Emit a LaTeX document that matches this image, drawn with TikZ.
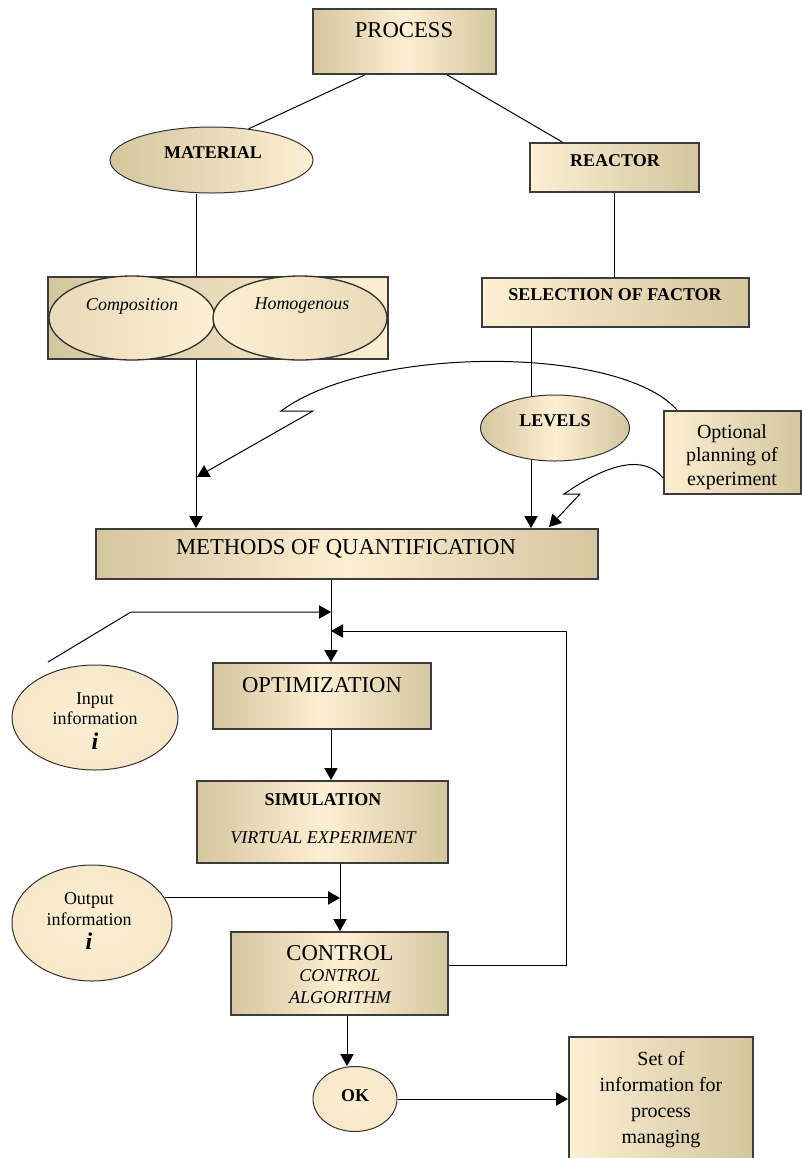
\documentclass[tikz,border=0pt]{standalone}
\usepackage{fontspec}
\setmainfont{Liberation Serif}
\usetikzlibrary{shapes.geometric,arrows.meta,calc}

\definecolor{tanD}{RGB}{212,198,158}
\definecolor{creamL}{RGB}{253,239,210}
\definecolor{edgeGray}{RGB}{60,60,60}

\tikzset{every picture/.style={line width=0.75pt}}
\tikzset{
  procbox/.style={rectangle, draw=edgeGray, line width=1.5pt, inner sep=0pt, left color=tanD, right color=tanD, middle color=creamL},
  sidebox/.style={rectangle, draw=edgeGray, line width=1.5pt, inner sep=0pt, left color=creamL, right color=tanD},
  oval/.style={ellipse, draw=black!80, inner sep=0pt, left color=tanD, right color=creamL},
  infooval/.style={ellipse, draw=black!80, inner sep=0pt, inner color=creamL, outer color=tanD!18!creamL},
  bigtext/.style={font=\fontsize{17}{20}\selectfont, inner sep=0pt},
  boldtext/.style={font=\bfseries\fontsize{13.5}{16}\selectfont, inner sep=0pt},
  slanttext/.style={font=\itshape\fontsize{13.5}{16.5}\selectfont, align=center, inner sep=0pt},
  notetext/.style={font=\fontsize{15}{17.6}\selectfont, align=center, inner sep=0pt},
  infotext/.style={font=\fontsize{13.5}{15.5}\selectfont, align=center, inner sep=0pt},
  flow/.style={-{Triangle[length=9pt,width=10pt]}},
}

\begin{document}
\begin{tikzpicture}[x=0.75pt,y=0.75pt,yscale=-1,xscale=1]
\clip (0,0) rectangle (802,1158);

%Shape: Rectangle
\node[procbox, minimum width=137.25pt, minimum height=48.75pt] (process) at (404.5,41.5) {};
%Shape: Ellipse
\node[oval, minimum width=152.25pt, minimum height=49.5pt] (material) at (211.5,160) {};
%Shape: Rectangle
\node[sidebox, minimum width=126.75pt, minimum height=36.75pt] (reactor) at (614.5,167.5) {};
%Shape: Rectangle
\node[sidebox, left color=tanD, right color=creamL, minimum width=255pt, minimum height=61.5pt] (compbox) at (218,318) {};
%Shape: Ellipse
\node[oval, line width=1pt, left color=tanD!50!creamL, right color=creamL, minimum width=124.5pt, minimum height=63pt] (composition) at (132,318) {};
%Shape: Ellipse
\node[oval, line width=1pt, left color=creamL, right color=tanD!50!creamL, minimum width=130.5pt, minimum height=63pt] (homogenous) at (300,318) {};
%Shape: Rectangle
\node[sidebox, minimum width=200.25pt, minimum height=36.75pt] (selection) at (615.5,302.5) {};
%Shape: Rectangle
\node[sidebox, minimum width=102.75pt, minimum height=62.25pt] (optional) at (732.5,452.5) {};
%Shape: Rectangle
\node[procbox, minimum width=376.5pt, minimum height=37.5pt] (methods) at (347,554) {};
%Shape: Rectangle
\node[procbox, minimum width=163.5pt, minimum height=49.5pt] (optim) at (322,696) {};
%Shape: Ellipse
\node[infooval, minimum width=124.5pt, minimum height=78.75pt] (input) at (95,717.5) {};
%Shape: Rectangle
\node[procbox, minimum width=188.25pt, minimum height=61.5pt] (simul) at (322.5,822) {};
%Shape: Ellipse
\node[infooval, minimum width=120pt, minimum height=87pt] (output) at (92,923) {};
%Shape: Rectangle
\node[procbox, minimum width=162.75pt, minimum height=62.25pt] (control) at (339.5,973.5) {};
%Shape: Ellipse
\node[infooval, minimum width=63pt, minimum height=48.75pt] (ok) at (355,1099) {};
%Shape: Rectangle
\node[sidebox, minimum width=138pt, minimum height=107.25pt] (setbox) at (661,1108.5) {};

\coordinate (matDown) at ($(material.south)+(-15.5,0)$);
\coordinate (compDown) at ($(compbox.south)+(-22,0)$);
\coordinate (selDown) at ($(selection.south)+(-84.5,0)$);
\coordinate (mqDown) at ($(methods.south)+(-16,0)$);
\coordinate (simDown) at ($(simul.south)+(17.5,0)$);
\coordinate (ctlDown) at ($(control.south)+(7.5,0)$);

%Straight Lines
\draw (process.220) -- (material.40);
\draw (process.322) -- (reactor.154);
\draw (matDown) -- (matDown |- compbox.north);
\draw (reactor.south) -- (reactor.south |- selection.north);
\draw[flow] (compDown) -- (compDown |- methods.north);
\draw[flow] (selDown) -- (selDown |- methods.north);

%Shape: Ellipse
\node[oval, left color=tanD, right color=tanD, middle color=creamL, minimum width=111.75pt, minimum height=49.5pt] (levels) at (555,428) {};

%Curve Lines
\coordinate (optTop) at ($(optional.north west)+(14,0)$);
\coordinate (zigA) at (281,411);
\coordinate (zigB) at (313,411);
\coordinate (tipA) at (197,477);
\draw[flow] (optTop) .. controls (620,345) and (370,345) .. (zigA) -- (zigB) -- (tipA);
\coordinate (optSide) at ($(optional.west)+(0,25.5)$);
\coordinate (zigC) at (564,494);
\coordinate (zigD) at (580,494);
\coordinate (tipB) at (549,527);
\draw[flow] (optSide) .. controls (645,455) and (610,462) .. (zigC) -- (zigD) -- (tipB);

%Straight Lines
\coordinate (inTail) at (48,662);
\coordinate (inKnee) at (131,612);
\coordinate (fbTurn) at (566,631);
\draw[flow] (inTail) -- (inKnee) -- (inKnee -| mqDown);
\draw[flow] ($(control.east)+(0,-8.5)$) -| (fbTurn) -- (fbTurn -| mqDown);
\draw[flow] (mqDown) -- (mqDown |- optim.north);
\draw[flow] (mqDown |- optim.south) -- (mqDown |- simul.north);
\draw[flow] (simDown) -- (simDown |- control.north);
\draw[flow] (output.19) -- (output.19 -| simDown);
\draw[flow] (ctlDown) -- (ctlDown |- ok.north);
\draw[flow] (ok.east) -- (ok.east -| setbox.west);

% Text Node
\node[bigtext] (processTxt) at (404,30) {PROCESS};
% Text Node
\node[boldtext] (materialTxt) at (213,153) {MATERIAL};
% Text Node
\node[boldtext] (reactorTxt) at (615,161) {REACTOR};
% Text Node
\node[slanttext] (compositionTxt) at (132,306) {Composition};
% Text Node
\node[slanttext] (homogenousTxt) at (302,306) {Homogenous};
% Text Node
\node[boldtext] (selectionTxt) at (615,295) {SELECTION OF FACTOR};
% Text Node
\node[boldtext] (levelsTxt) at (555,421) {LEVELS};
% Text Node
\node[notetext, anchor=north] (optionalTxt) at (732,424) {Optional\\planning of\\experiment};
% Text Node
\node[bigtext] (methodsTxt) at (346,549) {METHODS OF QUANTIFICATION};
% Text Node
\node[bigtext] (optimTxt) at (322,685) {OPTIMIZATION};
% Text Node
\node[infotext, anchor=north] (inputTxt) at (95,692) {Input\\information\\[3pt]{\fontsize{18}{18}\selectfont\bfseries\itshape i}};
% Text Node
\node[boldtext] (simulTxt) at (323,800) {SIMULATION};
% Text Node
\node[slanttext] (virtualTxt) at (323,838) {VIRTUAL EXPERIMENT};
% Text Node
\node[infotext, anchor=north] (outputTxt) at (89,892) {Output\\information\\[3pt]{\fontsize{18}{18}\selectfont\bfseries\itshape i}};
% Text Node
\node[bigtext] (controlTxt) at (340,953) {CONTROL};
% Text Node
\node[slanttext] (algorithmTxt) at (340,987) {CONTROL\\ALGORITHM};
% Text Node
\node[boldtext] (okTxt) at (355,1096) {OK};
% Text Node
\node[notetext, font=\fontsize{15}{19.5}\selectfont, anchor=north] (setTxt) at (661,1051) {Set of\\information for\\process\\managing};

\end{tikzpicture}
\end{document}
